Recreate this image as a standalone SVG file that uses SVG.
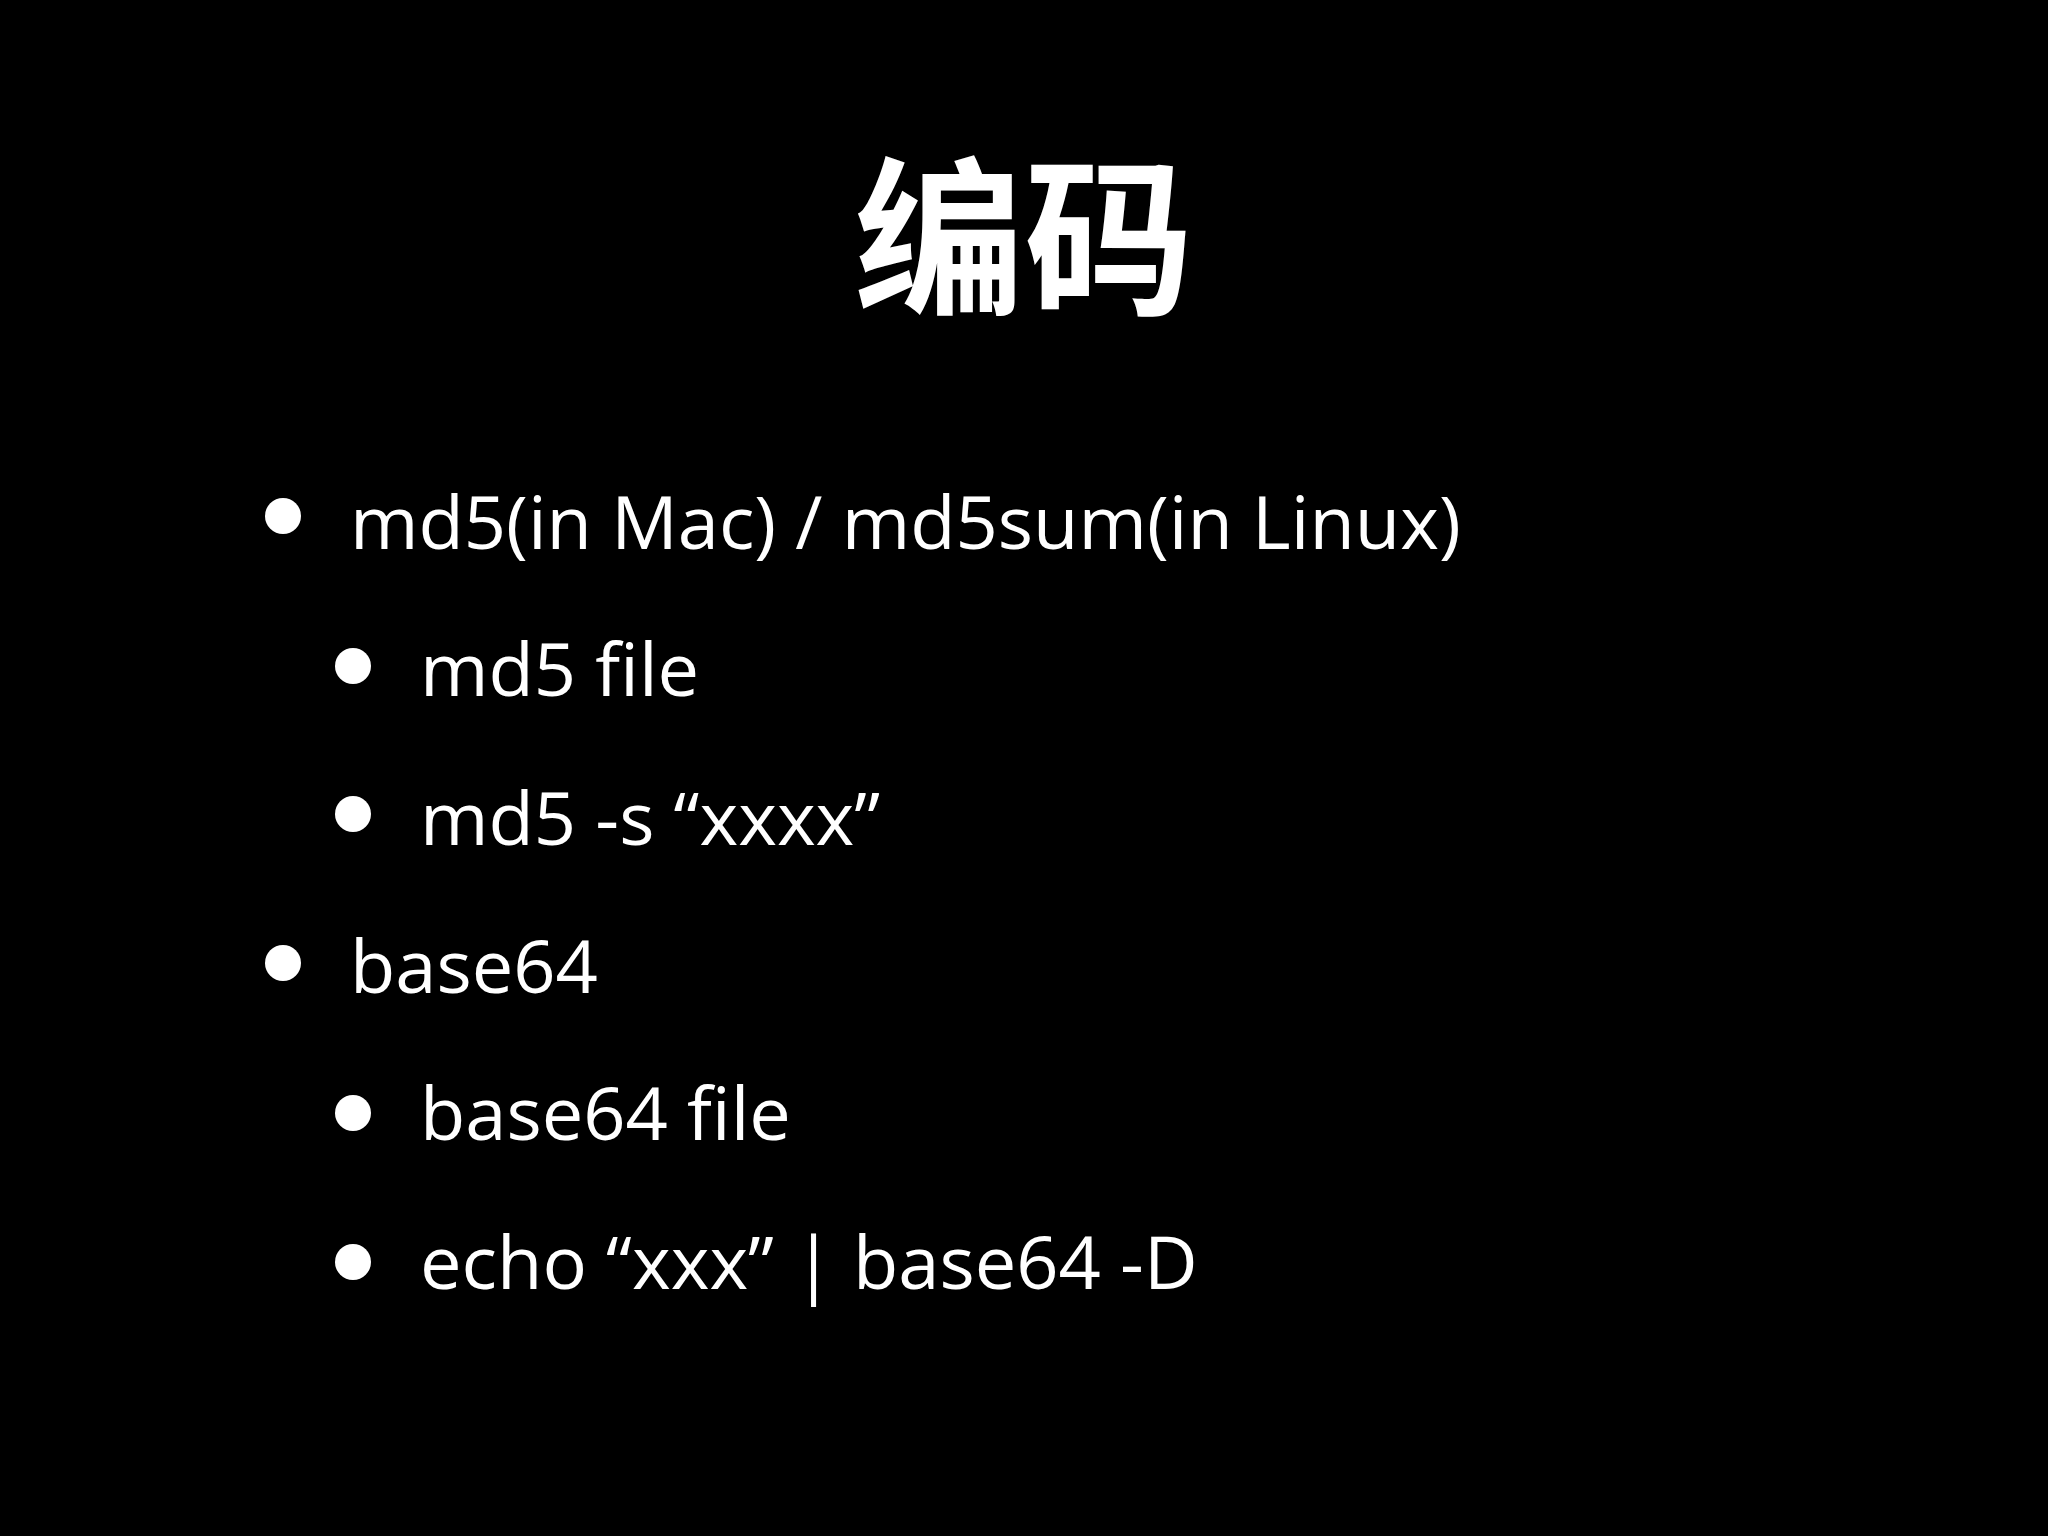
<svg xmlns="http://www.w3.org/2000/svg" width="2048" height="1536" viewBox="0 0 2048 1536">
<style>
.t{font-family:"Open Sans","Liberation Sans","Noto Sans CJK SC",sans-serif;fill:#fff;font-size:74px}
.h{font-family:"Noto Sans CJK SC",sans-serif;fill:#fff;font-size:170px;font-weight:bold}
circle{fill:#fff}
</style>
<rect width="2048" height="1536" fill="#000"/>
<text class="h" x="1024" y="302" text-anchor="middle">编码</text>
<g id="b1"><circle cx="283" cy="516" r="18"/><text class="t" x="350" y="549">md5(in Mac) / md5sum(in Linux)</text></g>
<g id="b2"><circle cx="353" cy="666" r="18"/><text class="t" x="420" y="696">md5 file</text></g>
<g id="b3"><circle cx="353" cy="814" r="18"/><text class="t" x="420" y="845">md5 -s “xxxx”</text></g>
<g id="b4"><circle cx="283" cy="963" r="18"/><text class="t" x="350" y="993">base64</text></g>
<g id="b5"><circle cx="353" cy="1113" r="18"/><text class="t" x="420" y="1140">base64 file</text></g>
<g id="b6"><circle cx="353" cy="1262" r="18"/><text class="t" x="420" y="1289">echo “xxx” | base64 -D</text></g>
</svg>
